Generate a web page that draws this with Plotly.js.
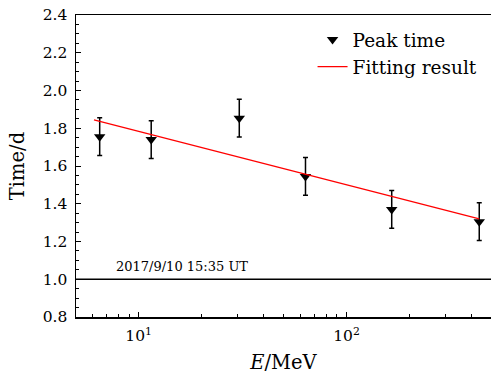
<!DOCTYPE html>
<html>
<head>
<meta charset="utf-8">
<script src="https://cdn.plot.ly/plotly-3.0.1.min.js"></script>
<style>html,body{margin:0;padding:0;background:#fff;}#chart{width:491px;height:374px;}</style>
</head>
<body>
<div id="chart"></div>
<script>
// Data
var energyMeV = [6.5, 11.5, 30.5, 63.5, 165, 435];
var peakTime  = [1.755, 1.74, 1.853, 1.545, 1.37, 1.305];
var peakErr   = [0.1, 0.1, 0.1, 0.1, 0.1, 0.1];
var fitX = [6.1, 435];
var fitY = [1.845, 1.32];
var refLevel = 1.0;
var refLabel = '2017/9/10 15:35 UT';
var refLabelX = 7.6;
var xTickVals = [10, 100];
var xTickText = ['10<sup>1</sup>', '10<sup>2</sup>'];
var xMinorVals = [6, 7, 8, 9, 20, 30, 40, 50, 60, 70, 80, 90, 200, 300, 400];

var serif = 'DejaVu Serif';

var traces = [
  {
    x: energyMeV, y: peakTime, type: 'scatter', mode: 'markers', name: 'Peak time',
    marker: {symbol: 'triangle-down', size: 10, color: '#000'},
    error_y: {type: 'data', array: peakErr, visible: true, color: '#000', thickness: 1.5, width: 2.5}
  },
  {
    x: fitX, y: fitY, type: 'scatter', mode: 'lines', name: 'Fitting result',
    line: {color: '#ff0000', width: 1.3}
  }
];

var layout = {
  width: 491, height: 374,
  margin: {l: 76, r: 0, t: 15, b: 57},
  paper_bgcolor: '#fff', plot_bgcolor: '#fff',
  font: {family: serif, size: 15, color: '#000'},
  showlegend: true,
  legend: {x: 0.57, y: 0.98, xanchor: 'left', yanchor: 'top', bgcolor: 'rgba(0,0,0,0)',
           font: {family: serif, size: 18.5, color: '#000'}, tracegroupgap: 0},
  xaxis: {
    type: 'log', range: [Math.log10(5), 2.695],
    showline: true, linecolor: '#000', linewidth: 1.5, mirror: true,
    ticks: 'inside', ticklen: 5, tickwidth: 1, tickcolor: '#000',
    tickmode: 'array', tickvals: xTickVals, ticktext: xTickText,
    ticklabelstandoff: 4,
    showgrid: false, zeroline: false,
    tickfont: {family: serif, size: 15.5, color: '#000'},
    minor: {tickmode: 'array', tickvals: xMinorVals, ticks: 'inside', ticklen: 3, tickwidth: 1, tickcolor: '#000', showgrid: false},
    title: {text: '<i>E</i>/MeV', font: {family: serif, size: 19.5, color: '#000'}, standoff: 11}
  },
  yaxis: {
    range: [0.8, 2.4], dtick: 0.2, tickformat: '.1f',
    showline: true, linecolor: '#000', linewidth: 1.5,
    ticks: 'inside', ticklen: 5, tickwidth: 1, tickcolor: '#000',
    ticklabelstandoff: 4,
    showgrid: false, zeroline: false,
    tickfont: {family: serif, size: 15.5, color: '#000'},
    minor: {dtick: 0.05, ticks: 'inside', ticklen: 3, tickwidth: 1, tickcolor: '#000', showgrid: false},
    title: {text: 'Time/d', font: {family: serif, size: 19.5, color: '#000'}, standoff: 13}
  },
  shapes: [
    {type: 'line', xref: 'paper', x0: 0, x1: 1, yref: 'y', y0: refLevel, y1: refLevel,
     line: {color: '#000', width: 1.5}}
  ],
  annotations: [
    {x: Math.log10(refLabelX), y: refLevel, xref: 'x', yref: 'y', text: refLabel, showarrow: false,
     xanchor: 'left', yanchor: 'bottom', yshift: 3, font: {family: serif, size: 13, color: '#000'}}
  ]
};

Plotly.newPlot('chart', traces, layout, {displayModeBar: false, staticPlot: true});
</script>
</body>
</html>
